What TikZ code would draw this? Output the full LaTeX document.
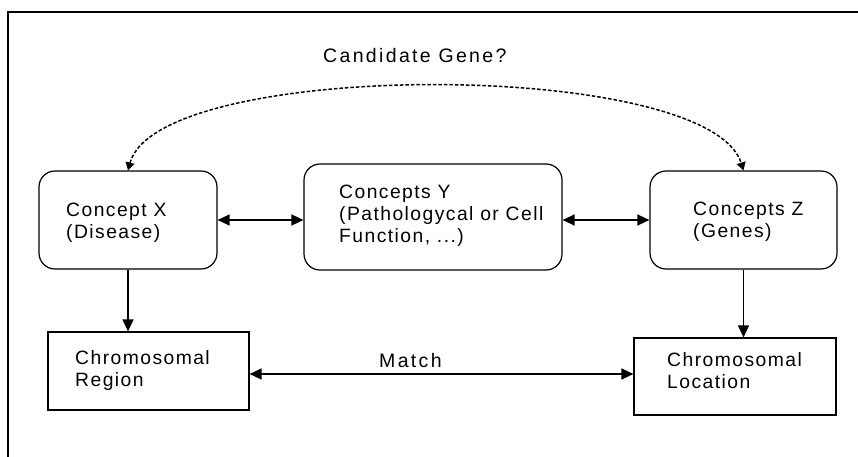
\documentclass[tikz,border=0pt]{standalone}
\usepackage{fontspec}
\setmainfont{Liberation Sans}
\newfontfamily\boxfont[LetterSpace=7.5]{Liberation Sans}
\newfontfamily\widefont[LetterSpace=12]{Liberation Sans}
\usetikzlibrary{arrows.meta}
\begin{document}
\begin{tikzpicture}[x=1pt,y=-1pt,
  rbox/.style={draw, line width=1.2pt, rounded corners=16pt, inner sep=0pt},
  sbox/.style={draw, line width=1.2pt, inner sep=0pt},
  lbl/.style={anchor=base west, align=left, inner sep=0pt, font=\boxfont\fontsize{19.3}{22}\selectfont},
  wlbl/.style={anchor=base west, inner sep=0pt, font=\widefont\fontsize{19.5}{22}\selectfont},
  arr/.style={line width=1.4pt, -{Triangle[length=12pt,width=11pt]}},
  darr/.style={line width=1.4pt, {Triangle[length=12pt,width=11pt]}-{Triangle[length=12pt,width=11pt]}},
  dotarr/.style={line width=1.5pt, dash pattern=on 3.5pt off 2pt, {Triangle[length=8pt,width=9pt]}-{Triangle[length=8pt,width=9pt]}}
]
\useasboundingbox (0,0) rectangle (858,457);
\draw[line width=1.1pt] (858,12) -- (8,12) -- (8,457);

\node[rbox, minimum width=178pt, minimum height=98pt] (X) at (128,220) {};
\node[rbox, minimum width=258pt, minimum height=106pt] (Y) at (433,217) {};
\node[rbox, minimum width=187pt, minimum height=98pt] (Z) at (743.5,220) {};
\node[sbox, minimum width=201pt, minimum height=78pt] (R) at (148.5,371) {};
\node[sbox, minimum width=202pt, minimum height=77pt] (L) at (735,376.5) {};

\node[lbl] (xt) at (66,238) {Concept X\\(Disease)};
\node[lbl] (yt) at (339,242) {Concepts Y\\(Pathologycal or Cell\\Function, ...)};
\node[lbl] (zt) at (693,237) {Concepts Z\\(Genes)};
\node[lbl] (rt) at (75,386) {Chromosomal\\Region};
\node[lbl] (lt) at (667,388) {Chromosomal\\Location};
\node[wlbl] (cand) at (323,63) {Candidate Gene?};
\node[wlbl] (match) at (379,367) {Match};

\draw[arr] (X.south) -- (X.south |- R.north);
\draw[arr] (Z.south) -- (Z.south |- L.north);
\draw[darr] (X.east) -- (X.east -| Y.west);
\draw[darr] (Z.west -| Y.east) -- (Z.west);
\draw[darr] ([yshift=-3pt]R.east) -- ([yshift=-3pt]R.east -| L.west);
\draw[dotarr] (X.north) .. controls +(30,-112) and +(-35,-112) .. (Z.north);
\end{tikzpicture}
\end{document}
